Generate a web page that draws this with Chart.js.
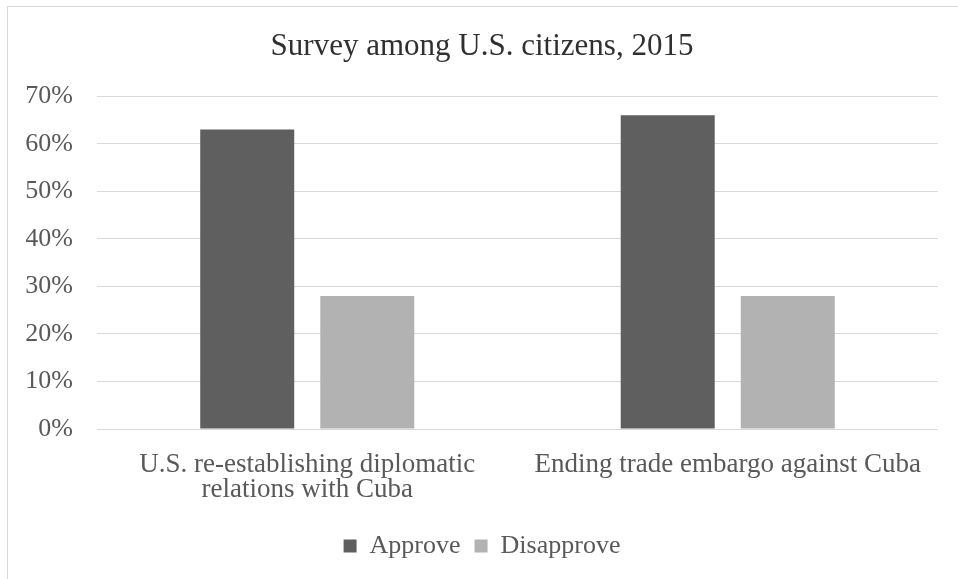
<!DOCTYPE html>
<html>
<head>
<meta charset="utf-8">
<title>Survey among U.S. citizens, 2015</title>
<script src="https://cdn.jsdelivr.net/npm/chart.js@4/dist/chart.umd.min.js"></script>
<style>
    html, body { margin: 0; padding: 0; background: #ffffff; }
    #myChart { display: block; }
</style>
</head>
<body>
<canvas id="myChart" width="958" height="579"></canvas>
<script>
const categories = [
    ['U.S. re-establishing diplomatic', 'relations with Cuba'],
    'Ending trade embargo against Cuba'
];
const approve = [63, 66];
const disapprove = [28, 28];
const yMin = 0;
const yMax = 70;
const yStep = 10;

const textGray = '#595959';
const gridGray = '#d9d9d9';

Chart.defaults.font.family = "'Liberation Serif', 'Times New Roman', serif";
Chart.defaults.font.size = 26;
Chart.defaults.color = textGray;

// white page with a thin frame round the chart
const frame = {
    id: 'frame',
    beforeDraw(chart) {
        const ctx = chart.ctx;
        ctx.save();
        ctx.fillStyle = '#ffffff';
        ctx.fillRect(0, 0, chart.width, chart.height);
        ctx.strokeStyle = gridGray;
        ctx.lineWidth = 1;
        ctx.strokeRect(7.5, 6.5, chart.width + 50, chart.height + 50);
        ctx.restore();
    }
};

const ctx = document.getElementById('myChart').getContext('2d');
const myChart = new Chart(ctx, {
    type: 'bar',
    data: {
        labels: categories,
        datasets: [
            {
                label: 'Approve',
                data: approve,
                backgroundColor: '#5f5f5f',
                categoryPercentage: 0.571,
                barPercentage: 0.783
            },
            {
                label: 'Disapprove',
                data: disapprove,
                backgroundColor: '#b2b2b2',
                categoryPercentage: 0.571,
                barPercentage: 0.783
            }
        ]
    },
    options: {
        responsive: false,
        animation: false,
        layout: {
            padding: { left: 26, right: 20, top: 0, bottom: 10 }
        },
        plugins: {
            title: {
                display: true,
                text: 'Survey among U.S. citizens, 2015',
                color: '#303030',
                font: { size: 31, weight: 'normal' },
                padding: { top: 28, bottom: 31 }
            },
            legend: {
                position: 'bottom',
                labels: {
                    boxWidth: 13,
                    boxHeight: 13,
                    padding: 14,
                    color: textGray
                }
            },
            tooltip: { enabled: false }
        },
        scales: {
            x: {
                grid: { display: false },
                border: { display: false },
                ticks: {
                    color: textGray,
                    padding: 15,
                    maxRotation: 0,
                    autoSkip: false,
                    font: { size: 27, lineHeight: '25px' }
                },
                afterFit: function (scale) {
                    scale.height = 90;
                }
            },
            y: {
                min: yMin,
                max: yMax,
                grid: { color: gridGray, lineWidth: 1, drawTicks: false },
                border: { display: false },
                ticks: {
                    stepSize: yStep,
                    padding: 24,
                    color: textGray,
                    callback: v => v + '%'
                },
                afterFit: function (scale) {
                    scale.width = 71;
                }
            }
        }
    },
    plugins: [frame]
});
</script>
</body>
</html>
